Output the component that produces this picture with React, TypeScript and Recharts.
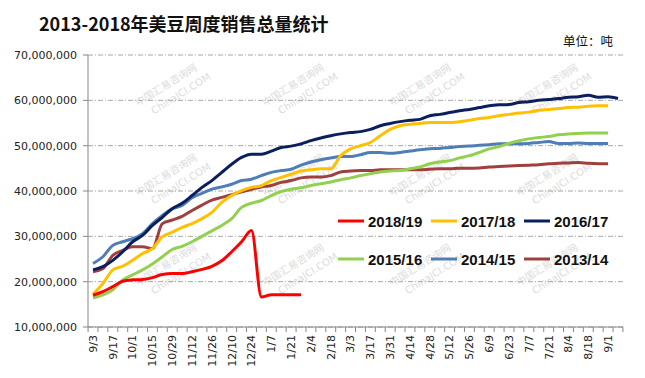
import React from 'react';
import { LineChart, Line, XAxis, YAxis, CartesianGrid } from 'recharts';

const weeks = [
  '9/3', '9/10', '9/17', '9/24', '10/1', '10/8', '10/15', '10/22', '10/29', '11/5',
  '11/12', '11/19', '11/26', '12/3', '12/10', '12/17', '12/24', '12/31', '1/7', '1/14',
  '1/21', '1/28', '2/4', '2/11', '2/18', '2/25', '3/3', '3/10', '3/17', '3/24',
  '3/31', '4/7', '4/14', '4/21', '4/28', '5/5', '5/12', '5/19', '5/26', '6/2',
  '6/9', '6/16', '6/23', '6/30', '7/7', '7/14', '7/21', '7/28', '8/4', '8/11',
  '8/18', '8/25', '9/1', '9/8',
];

// values in million tonnes
const s2018 = [
  17.0, 17.8, 18.9, 20.1, 20.4, 20.5, 20.9, 21.6, 21.8, 21.8,
  22.2, 22.7, 23.4, 24.6, 26.6, 28.8, 31.3, 16.6, 17.1, 17.1, 17.1, 17.1,
];
const s2017 = [
  17.2, 19.6, 22.6, 23.4, 24.7, 26.2, 27.3, 29.9, 30.9, 32.0,
  32.8, 33.9, 35.3, 37.5, 39.0, 40.1, 40.8, 41.2, 42.3, 43.0,
  43.7, 44.4, 44.7, 44.9, 44.9, 47.8, 49.3, 50.0, 50.7, 52.2,
  53.6, 54.4, 54.7, 54.9, 55.1, 55.1, 55.1, 55.3, 55.6, 56.0,
  56.2, 56.6, 56.9, 57.2, 57.4, 57.8, 58.0, 58.2, 58.4, 58.5,
  58.7, 58.8, 58.8,
];
const s2016 = [
  22.6, 23.3, 24.7, 26.6, 28.8, 30.2, 32.4, 34.2, 36.1, 37.3,
  39.0, 40.8, 42.3, 44.1, 45.9, 47.4, 48.1, 48.1, 48.8, 49.6,
  49.9, 50.4, 51.1, 51.7, 52.2, 52.6, 52.9, 53.1, 53.6, 54.4,
  54.9, 55.3, 55.6, 55.8, 56.6, 56.9, 57.3, 57.7, 58.0, 58.4,
  58.8, 59.0, 59.1, 59.5, 59.7, 60.0, 60.2, 60.4, 60.7, 60.8,
  61.1, 60.7, 60.8, 60.4,
];
const s2015 = [
  16.4, 17.1, 18.2, 20.4, 21.5, 22.6, 23.9, 25.5, 27.1, 27.8,
  28.8, 30.0, 31.2, 32.4, 33.9, 36.4, 37.3, 37.9, 39.0, 39.9,
  40.4, 40.7, 41.2, 41.6, 42.0, 42.5, 42.9, 43.4, 43.8, 44.2,
  44.4, 44.5, 44.9, 45.3, 46.0, 46.4, 46.7, 47.3, 47.8, 48.5,
  49.3, 49.8, 50.5, 51.1, 51.5, 51.8, 52.0, 52.4, 52.6, 52.7,
  52.8, 52.8, 52.8,
];
const s2014 = [
  24.0, 25.5, 28.0, 28.8, 29.5, 30.6, 32.8, 34.6, 36.1, 36.8,
  38.5, 39.5, 40.4, 40.9, 41.5, 42.3, 42.6, 43.4, 44.1, 44.5,
  44.8, 45.7, 46.4, 46.9, 47.3, 47.6, 47.6, 48.0, 48.5, 48.5,
  48.3, 48.5, 48.8, 49.1, 49.3, 49.4, 49.6, 49.8, 49.9, 50.1,
  50.2, 50.4, 50.4, 50.4, 50.5, 50.7, 50.9, 50.5, 50.5, 50.6,
  50.5, 50.5, 50.5,
];
const s2013 = [
  22.2, 22.9, 25.8, 26.9, 27.7, 27.7, 27.3, 32.8, 33.6, 34.4,
  35.7, 36.9, 38.0, 38.6, 39.2, 39.8, 40.4, 40.9, 41.2, 41.9,
  42.3, 42.9, 43.1, 43.1, 43.4, 44.2, 44.4, 44.5, 44.5, 44.7,
  44.7, 44.7, 44.7, 44.7, 44.8, 44.9, 44.9, 45.0, 45.0, 45.1,
  45.3, 45.4, 45.5, 45.6, 45.7, 45.8, 46.0, 46.1, 46.2, 46.3,
  46.1, 46.0, 46.0,
];

const seriesKeys = ['s2018', 's2017', 's2016', 's2015', 's2014', 's2013'];
const seriesNames = ['2018/19', '2017/18', '2016/17', '2015/16', '2014/15', '2013/14'];
const seriesColors = ['#FF0000', '#FFC000', '#0B1F5E', '#92D050', '#4F7DB5', '#A0403E'];
const seriesValues = [s2018, s2017, s2016, s2015, s2014, s2013];
const yTicks = [10, 20, 30, 40, 50, 60, 70];

const titleText = '2013-2018年美豆周度销售总量统计';
const unitText = '单位：吨';
const wmCn = '中国汇易咨询网';
const wmEn = 'ChinaJCI.COM';

const data = weeks.map((w, i) => {
  const row: any = { week: w };
  seriesKeys.forEach((k, j) => {
    const v = seriesValues[j][i];
    row[k] = v === undefined ? null : v;
  });
  return row;
});

const AXIS = '#868686';

const XTick = (props: any) => {
  const { x, y, payload, index } = props;
  const half = 4.95;
  return (
    <g>
      <line x1={x - half} x2={x - half} y1={y} y2={y + 5} stroke={AXIS} />
      {index === weeks.length - 1 && (
        <line x1={x + half} x2={x + half} y1={y} y2={y + 5} stroke={AXIS} />
      )}
      {index % 2 === 0 && (
        <text
          x={x}
          y={y + 8}
          transform={`rotate(-90 ${x} ${y + 8})`}
          textAnchor="end"
          dy="0.35em"
          fontSize={11}
          fontFamily="DejaVu Sans"
          fill="#222"
        >
          {payload.value}
        </text>
      )}
    </g>
  );
};

const wmCols = [168, 295, 422, 549];
const wmRows = [88, 178, 268];

export default function App() {
  const order = [5, 4, 3, 2, 1, 0];
  return (
    <div style={{ position: 'absolute', left: 0, top: 0, width: 645, height: 378, background: '#fff' }}>
      <svg width={645} height={378} style={{ position: 'absolute', left: 0, top: 0 }}>
        {wmRows.map((ry) =>
          wmCols.map((cx) => (
            <g key={`${cx}-${ry}`} transform={`rotate(-32 ${cx} ${ry})`}>
              <text x={cx} y={ry} textAnchor="middle" fontSize={10} fontFamily="Noto Sans CJK SC" fill="#dcdcdc">
                {wmCn}
              </text>
              <text x={cx + 8} y={ry + 15} textAnchor="middle" fontSize={10} fontFamily="DejaVu Sans" fill="#dcdcdc">
                {wmEn}
              </text>
            </g>
          ))
        )}
      </svg>
      <div style={{ position: 'absolute', left: 0, top: 0 }}>
        <LineChart width={645} height={378} data={data} margin={{ top: 55, right: 22, bottom: 0, left: 8 }}>
          <CartesianGrid vertical={false} stroke="#a6a6a6" strokeDasharray="5 2 1 2" />
          <XAxis
            dataKey="week"
            interval={0}
            tick={(p: any) => <XTick {...p} />}
            tickLine={false}
            tickSize={0}
            tickMargin={0}
            height={51}
            axisLine={{ stroke: AXIS }}
            padding={{ left: 5, right: 5 }}
          />
          <YAxis
            domain={[10, 70]}
            ticks={yTicks}
            interval={0}
            tickFormatter={(v: number) => (v * 1000000).toLocaleString('en-US')}
            width={80}
            tickSize={5}
            tickMargin={6}
            axisLine={{ stroke: AXIS }}
            tickLine={{ stroke: AXIS }}
            tick={{ fontSize: 11, fill: '#222', fontFamily: 'DejaVu Sans' }}
          />
          {order.map((j) => (
            <Line
              key={seriesKeys[j]}
              type="monotone"
              dataKey={seriesKeys[j]}
              name={seriesNames[j]}
              stroke={seriesColors[j]}
              strokeWidth={3}
              dot={false}
              connectNulls={false}
              isAnimationActive={false}
            />
          ))}
        </LineChart>
      </div>
      <svg width={645} height={378} style={{ position: 'absolute', left: 0, top: 0, pointerEvents: 'none' }}>
        <text x={39} y={31} fontSize={18} fontWeight={700} fontFamily="Noto Sans CJK SC" fill="#111">
          {titleText}
        </text>
        <text x={613} y={46} textAnchor="end" fontSize={12.5} fontFamily="Noto Sans CJK SC" fill="#111">
          {unitText}
        </text>
        {seriesNames.map((n, j) => {
          const col = j % 3;
          const row = Math.floor(j / 3);
          const lx = [338, 431, 524][col];
          const ly = [221, 259][row];
          return (
            <g key={n}>
              <line x1={lx} x2={lx + 26} y1={ly} y2={ly} stroke={seriesColors[j]} strokeWidth={3} />
              <text x={lx + 30} y={ly + 5.5} fontSize={15} fontWeight={700} fontFamily="Liberation Sans" fill="#111">
                {n}
              </text>
            </g>
          );
        })}
      </svg>
    </div>
  );
}
